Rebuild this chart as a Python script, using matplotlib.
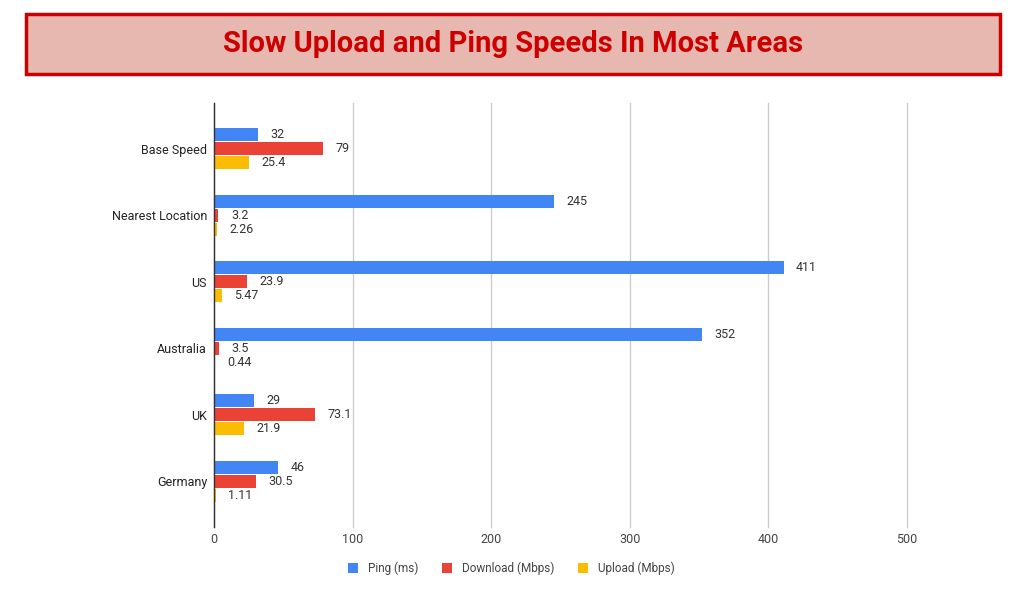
import matplotlib
matplotlib.use("Agg")
import matplotlib.pyplot as plt
from matplotlib.patches import Rectangle
import numpy as np

categories = ["Base Speed", "Nearest Location", "US", "Australia", "UK", "Germany"]
ping = [32, 245, 411, 352, 29, 46]
download = [79, 3.2, 23.9, 3.5, 73.1, 30.5]
upload = [25.4, 2.26, 5.47, 0.44, 21.9, 1.11]
ping_labels = ["32", "245", "411", "352", "29", "46"]
download_labels = ["79", "3.2", "23.9", "3.5", "73.1", "30.5"]
upload_labels = ["25.4", "2.26", "5.47", "0.44", "21.9", "1.11"]
series_names = ["Ping (ms)", "Download (Mbps)", "Upload (Mbps)"]
xticks = [0, 100, 200, 300, 400, 500]
title = "Slow Upload and Ping Speeds In Most Areas"

colors = ["#4285F4", "#EA4335", "#FBBC04"]
plt.rcParams['font.family'] = ['Roboto', 'DejaVu Sans']

W, H = 1028, 597
fig = plt.figure(figsize=(W/100, H/100), dpi=100)

# title box
fig.patches.append(Rectangle((26/W, 1-74/H), (1000-26)/W, (74-14)/H, transform=fig.transFigure,
                             facecolor="#E6B8B0", edgecolor="#CC0000", linewidth=2.5, zorder=0))
fig.text(513/W, 1-44/H, title, ha="center", va="center", color="#CC0000",
         fontsize=21, fontweight="bold")

ax = fig.add_axes([214/W, 1-527/H, (907-214)/W, (527-103)/H])
y = np.arange(len(categories))
off = 0.21
h = 0.195
series = [ping, download, upload]
labels = [ping_labels, download_labels, upload_labels]
for i, (vals, labs) in enumerate(zip(series, labels)):
    pos = y + (i-1)*off
    ax.barh(pos, vals, height=h, color=colors[i], label=series_names[i], zorder=3)
    for p, v, t in zip(pos, vals, labs):
        ax.text(v + 9, p, t, va="center", ha="left", fontsize=9, color="#333333")

ax.set_ylim(len(categories)-1+0.69, -0.69)
ax.set_xlim(0, 500)
ax.set_yticks(y)
ax.set_yticklabels(categories, fontsize=9, color="#222222")
ax.set_xticks(xticks)
ax.set_xticklabels([str(t) for t in xticks], fontsize=9, color="#444444")
ax.tick_params(axis="y", length=0, pad=5)
ax.tick_params(axis="x", length=0, pad=4)
ax.grid(axis="x", color="#CCCCCC", linewidth=1, zorder=0)
for gl in ax.get_xgridlines():
    gl.set_clip_on(False)
for s in ["top", "right", "bottom"]:
    ax.spines[s].set_visible(False)
ax.spines["left"].set_color("#333333")
ax.spines["left"].set_linewidth(1)
ax.spines["left"].set_zorder(4)

leg = fig.legend(loc="center", bbox_to_anchor=(511/W, 1-568/H), ncol=3, frameon=False,
                 fontsize=8.5, handlelength=0.9, handleheight=0.9, columnspacing=2.0,
                 handletextpad=0.8)
for t in leg.get_texts():
    t.set_color("#444444")

fig.savefig("out.png", dpi=100)
